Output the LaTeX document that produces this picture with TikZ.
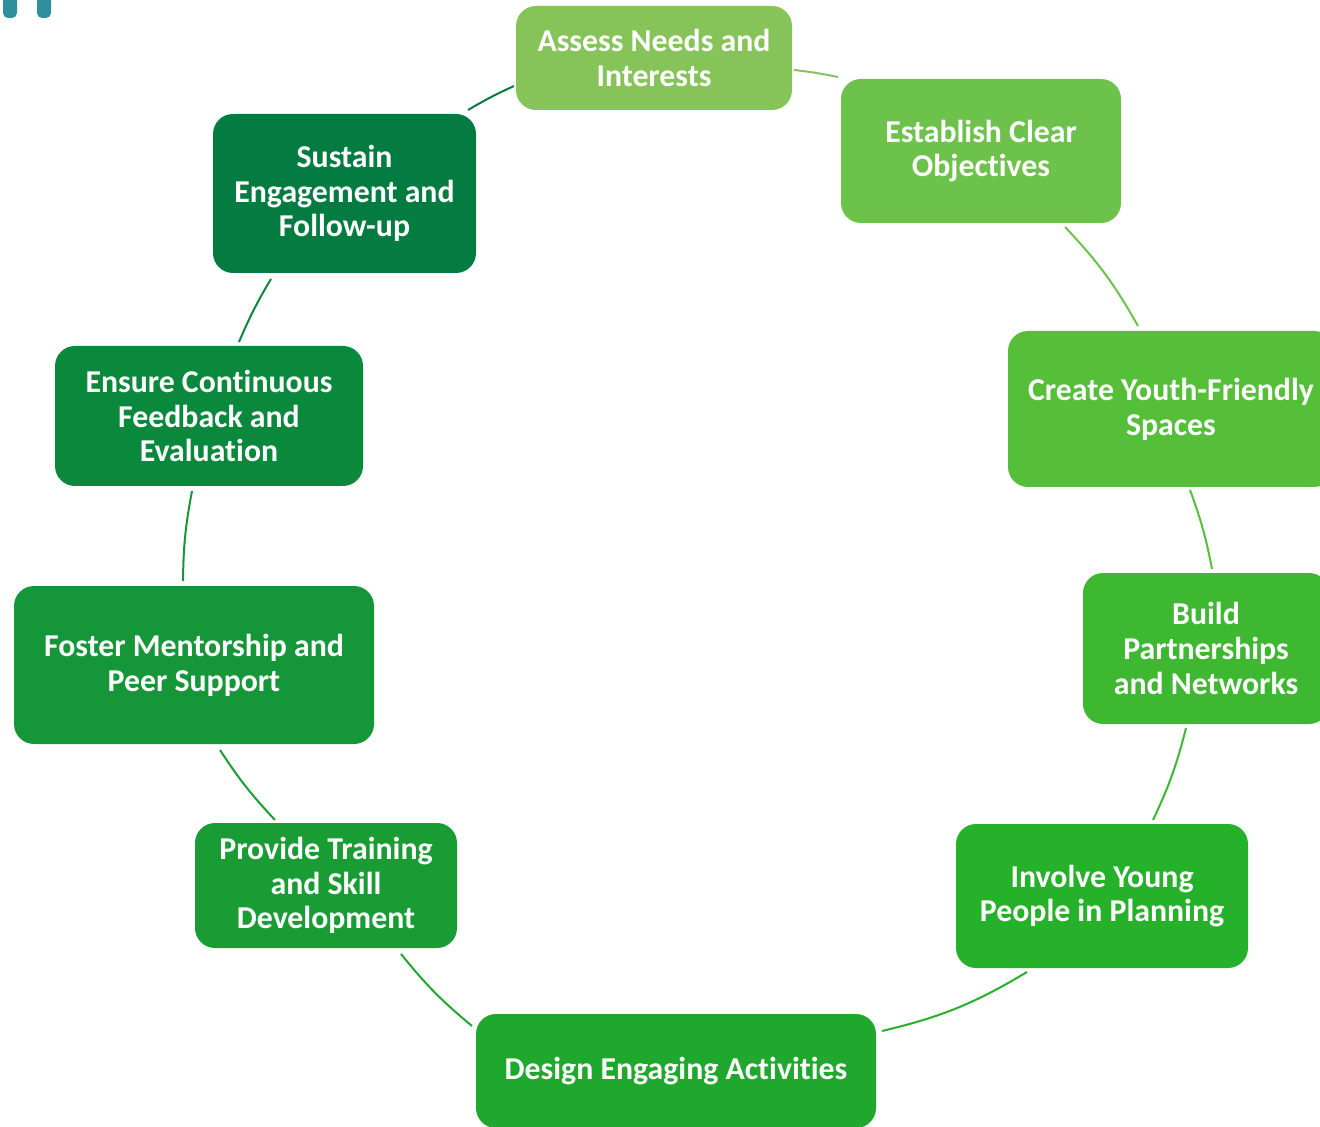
\documentclass[tikz,border=0pt]{standalone}
\usepackage{fontspec}
\setmainfont{Carlito}[Ligatures=NoCommon]
\definecolor{cA}{HTML}{86C45A}
\definecolor{cB}{HTML}{6CC24A}
\definecolor{cC}{HTML}{55BF3A}
\definecolor{cD}{HTML}{3DB830}
\definecolor{cE}{HTML}{26B12A}
\definecolor{cF}{HTML}{1FA82D}
\definecolor{cG}{HTML}{1A9C35}
\definecolor{cH}{HTML}{159638}
\definecolor{cI}{HTML}{0A883C}
\definecolor{cJ}{HTML}{047C41}
\definecolor{teal}{HTML}{2F8F9D}
\tikzset{
  box/.style={rectangle, rounded corners=10pt, inner sep=0pt, align=center,
    text=white, font=\fontsize{15.9pt}{17.4pt}\selectfont\bfseries},
  conn/.style={line width=1pt},
  tealmark/.style={fill=teal, rounded corners=2.5pt},
}
\begin{document}
\begin{tikzpicture}[x=0.5pt,y=-0.5pt]
\useasboundingbox (0,0) rectangle (1320,1127);
\clip (0,0) rectangle (1320,1127);
% teal marks
\fill[tealmark] (3,-10) rectangle (17,18);
\fill[tealmark] (37,-10) rectangle (51,18);
% boxes
\node[box, fill=cA, minimum width=138pt, minimum height=52pt] (a) at (654,58) {Assess Needs and\\Interests};
\node[box, fill=cB, minimum width=140pt, minimum height=72pt] (b) at (981,151) {Establish Clear\\Objectives};
\node[box, fill=cC, minimum width=163pt, minimum height=78pt] (c) at (1171,409) {Create Youth-Friendly\\Spaces};
\node[box, fill=cD, minimum width=123pt, minimum height=75.5pt] (d) at (1206,648.5) {Build\\Partnerships\\and Networks};
\node[box, fill=cE, minimum width=146pt, minimum height=72pt] (e) at (1102,896) {Involve Young\\People in Planning};
\node[box, fill=cF, minimum width=200pt, minimum height=57pt] (f) at (676,1071) {Design Engaging Activities};
\node[box, fill=cG, minimum width=131pt, minimum height=62.5pt] (g) at (326,885.5) {Provide Training\\and Skill\\Development};
\node[box, fill=cH, minimum width=180pt, minimum height=79pt] (h) at (194,665) {Foster Mentorship and\\Peer Support};
\node[box, fill=cI, minimum width=154pt, minimum height=70pt] (i) at (209,416) {Ensure Continuous\\Feedback and\\Evaluation};
\node[box, fill=cJ, minimum width=131.5pt, minimum height=79.5pt] (j) at (344.5,193.5) {Sustain\\Engagement and\\Follow-up};
% connector ends
\coordinate (a1) at (794,70);   \coordinate (b0) at (838,77);
\coordinate (b1) at (1065,227); \coordinate (c0) at (1138,326);
\coordinate (c1) at (1190,490); \coordinate (d0) at (1212,569);
\coordinate (d1) at (1186,728); \coordinate (e0) at (1153,820);
\coordinate (e1) at (1027,972); \coordinate (f0) at (882,1031);
\coordinate (f1) at (472,1026); \coordinate (g0) at (401,954);
\coordinate (g1) at (275,820);  \coordinate (h0) at (220,750);
\coordinate (h1) at (183,581);  \coordinate (i0) at (192,491);
\coordinate (i1) at (239,342);  \coordinate (j0) at (271,279);
\coordinate (j1) at (468,110);  \coordinate (a0) at (514,86);
% connectors
\draw[conn, cA] (a1) to[bend left=2.5] (b0);
\draw[conn, cB] (b1) to[bend left=7] (c0);
\draw[conn, cC] (c1) to[bend left=4.6] (d0);
\draw[conn, cD] (d1) to[bend left=5.5] (e0);
\draw[conn, cE] (e1) to[bend left=8.8] (f0);
\draw[conn, cF] (f1) to[bend left=5.7] (g0);
\draw[conn, cG] (g1) to[bend left=5] (h0);
\draw[conn, cH] (h1) to[bend left=5] (i0);
\draw[conn, cI] (i1) to[bend left=3.9] (j0);
\draw[conn, cJ] (j1) to[bend left=2.9] (a0);
\end{tikzpicture}
\end{document}
